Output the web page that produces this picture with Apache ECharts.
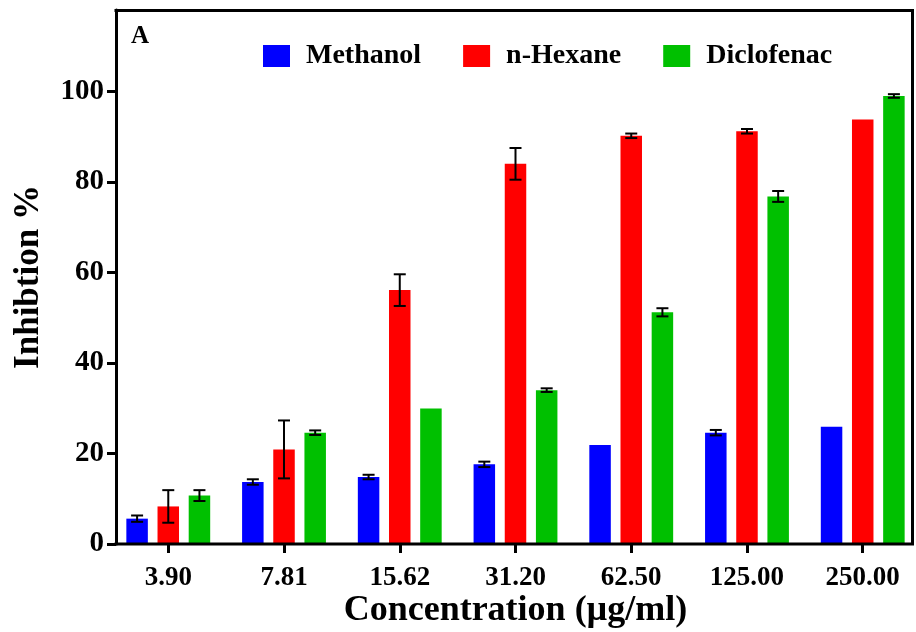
<!DOCTYPE html>
<html>
<head>
<meta charset="utf-8">
<script src="https://cdn.jsdelivr.net/npm/echarts@6/dist/echarts.min.js"></script>
<style>html,body{margin:0;padding:0;background:#fff}#c{width:916px;height:632px}</style>
</head>
<body>
<div id="c"></div>
<script>
// ---- data ----
var categories = ['3.90', '7.81', '15.62', '31.20', '62.50', '125.00', '250.00'];
var seriesNames = ['Methanol', 'n-Hexane', 'Diclofenac'];
var methanol = [5.6, 13.7, 14.8, 17.6, 21.9, 24.6, 25.9];
var methanolErr = [0.7, 0.6, 0.5, 0.6, 0, 0.6, 0];
var hexane = [8.3, 20.9, 56.1, 84.0, 90.2, 91.2, 93.8];
var hexaneErr = [3.6, 6.4, 3.5, 3.5, 0.5, 0.5, 0];
var diclofenac = [10.7, 24.6, 29.95, 34.0, 51.2, 76.8, 99.0];
var diclofenacErr = [1.2, 0.5, 0, 0.4, 0.9, 1.2, 0.4];
var yTicks = [0, 20, 40, 60, 80, 100];

var colors = ['#0000FF', '#FF0000', '#00C000'];
var FONT = '"Liberation Serif", "Times New Roman", serif';
var BAR_W = 21.5, BAR_GAP = 0.45, CAP = 12;

var values = [methanol, hexane, diclofenac];
var errs = [methanolErr, hexaneErr, diclofenacErr];

var chart = echarts.init(document.getElementById('c'), null, {renderer: 'canvas'});

var series = [];
values.forEach(function (vals, k) {
  series.push({
    name: seriesNames[k], type: 'bar', data: vals,
    barWidth: BAR_W, barGap: (BAR_GAP * 100) + '%',
    itemStyle: {color: colors[k]}, z: 2
  });
});
values.forEach(function (vals, k) {
  series.push({
    type: 'custom', name: 'err' + k, z: 5, silent: true,
    dimensions: ['x', 'y', 'e', 'k'],
    encode: {x: 0, y: 1},
    data: vals.map(function (v, i) { return [i, v, errs[k][i], k]; }),
    renderItem: function (params, api) {
      var i = api.value(0), v = api.value(1), e = api.value(2), kk = api.value(3);
      if (!e) return null;
      var off = (kk - 1) * BAR_W * (1 + BAR_GAP);
      var t = api.coord([i, v + e]);
      var b = api.coord([i, v - e]);
      var x = t[0] + off;
      var st = {stroke: '#000', lineWidth: 2};
      return {type: 'group', children: [
        {type: 'line', shape: {x1: x, y1: t[1], x2: x, y2: b[1]}, style: st},
        {type: 'line', shape: {x1: x - CAP / 2, y1: t[1], x2: x + CAP / 2, y2: t[1]}, style: st},
        {type: 'line', shape: {x1: x - CAP / 2, y1: b[1], x2: x + CAP / 2, y2: b[1]}, style: st}
      ]};
    }
  });
});

chart.setOption({
  animation: false,
  backgroundColor: '#fff',
  title: {
    text: 'A', left: 131, top: 24, padding: 0,
    textStyle: {fontFamily: FONT, fontWeight: 'bold', fontSize: 25, color: '#000'}
  },
  legend: {
    data: seriesNames, left: 263, top: 42, icon: 'rect', padding: 0,
    itemWidth: 27, itemHeight: 22, itemGap: 42,
    textStyle: {fontFamily: FONT, fontWeight: 'bold', fontSize: 28, color: '#000', padding: [0, 0, 0, 11]}
  },
  grid: {left: 110.4, right: -4.6, top: 10, bottom: 88, containLabel: false, outerBoundsMode: 'none'},
  xAxis: {
    type: 'category', data: categories, boundaryGap: true,
    axisLine: {show: false},
    axisTick: {show: true, alignWithLabel: true, length: 9, lineStyle: {color: '#000', width: 3}},
    axisLabel: {margin: 21, fontFamily: FONT, fontWeight: 'bold', fontSize: 27, color: '#000'},
    name: 'Concentration (µg/ml)', nameLocation: 'middle', nameGap: 49, nameMoveOverlap: false,
    nameTextStyle: {fontFamily: FONT, fontWeight: 'bold', fontSize: 36, color: '#000'}
  },
  yAxis: {
    type: 'value', min: 0, max: 118, interval: 20, offset: -5.6,
    axisLine: {show: true, lineStyle: {color: '#000', width: 3}},
    axisTick: {show: true, length: 9, lineStyle: {color: '#000', width: 3}},
    splitLine: {show: false},
    axisLabel: {
      margin: 12, fontFamily: FONT, fontWeight: 'bold', fontSize: 29, color: '#000',
      showMaxLabel: false,
      formatter: function (v) { return yTicks.indexOf(v) >= 0 ? String(v) : ''; }
    },
    name: 'Inhibtion %', nameLocation: 'middle', nameGap: 70, nameRotate: 90, nameMoveOverlap: false,
    nameTextStyle: {fontFamily: FONT, fontWeight: 'bold', fontSize: 35, color: '#000'}
  },
  graphic: [{
    type: 'polyline', silent: true, z: 10,
    shape: {points: [[114.5, 544], [912.5, 544], [912.5, 10.5], [114.5, 10.5]]},
    style: {stroke: '#000', lineWidth: 3, fill: null}
  }],
  series: series
});
</script>
</body>
</html>
